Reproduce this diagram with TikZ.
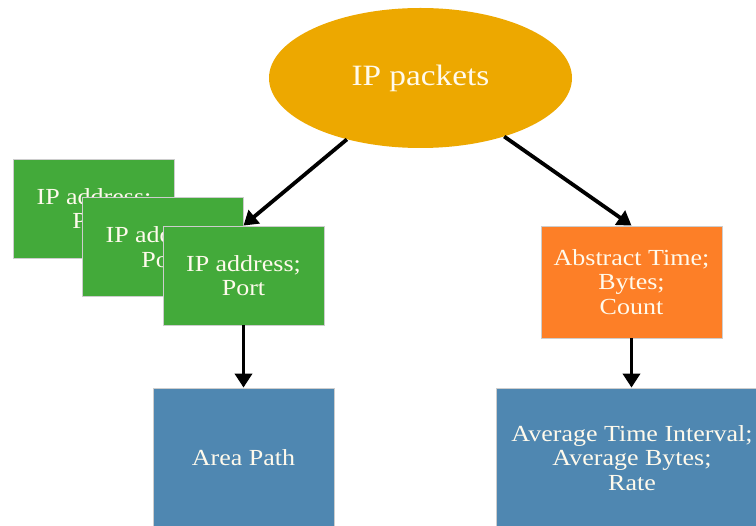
\documentclass[tikz,border=0pt]{standalone}
\usepackage{fontspec}
\setmainfont[FakeStretch=1.13]{Liberation Serif}
\usetikzlibrary{shapes.geometric,arrows.meta}
\definecolor{gold}{RGB}{237,168,0}
\definecolor{leaf}{RGB}{67,170,58}
\definecolor{tang}{RGB}{253,127,39}
\definecolor{steel}{RGB}{79,135,177}
\definecolor{label}{RGB}{255,250,236}
\definecolor{boxline}{RGB}{205,205,205}
\begin{document}
\begin{tikzpicture}[x=1pt,y=-1pt,
  box/.style={draw=boxline, line width=0.8pt, inner sep=0pt, align=center,
    text=label, font=\fontsize{23}{24.5}\selectfont},
  keybox/.style={box, fill=leaf, minimum width=161pt, minimum height=99pt},
  arr/.style={line width=3.8pt, -{Triangle[length=14pt,width=17pt]}}]
\clip (0,0) rectangle (756,526);
\fill[white] (0,0) rectangle (756,526);

% source of all flows
\node[ellipse, fill=gold, minimum width=303pt, minimum height=140pt, inner sep=0pt,
  text=label, font=\fontsize{29.5}{32}\selectfont] (ip) at (420.5,78) {\raisebox{-2pt}{IP packets}};

% stacked per-host keys
\node[keybox] (k1) at (94,208.5) {IP address;\\Port};
\node[keybox] (k2) at (163,247) {IP address;\\Port};
\node[keybox] (k3) at (243.5,275.5) {IP address;\\Port};

% time based features
\node[box, fill=tang, minimum width=181pt, minimum height=112pt] (abs) at (631.5,282)
  {Abstract Time;\\Bytes;\\Count};

% results
\node[box, fill=steel, minimum width=181pt, minimum height=140pt] (area) at (243.5,458) {Area Path};
\node[box, fill=steel, minimum width=272pt, minimum height=140pt] (avg) at (632,458)
  {Average Time Interval;\\Average Bytes;\\Rate};

% connectors
\draw[arr] (ip) -- (k3.north);
\draw[arr] (ip) -- (abs.north);
\draw[arr] (k3.south) -- (area.north);
\draw[arr] (abs.south) -- (abs.south |- avg.north);
\end{tikzpicture}
\end{document}
